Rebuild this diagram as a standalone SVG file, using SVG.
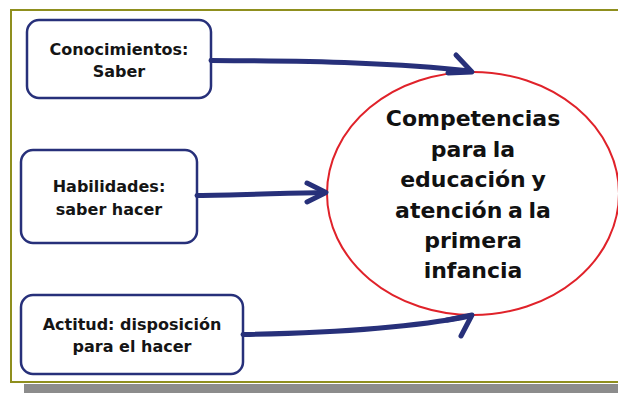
<svg xmlns="http://www.w3.org/2000/svg" width="618" height="393" viewBox="0 0 618 393">
<style>
.box{fill:#ffffff;stroke:#27307a;stroke-width:2.5}
.t{font-family:"DejaVu Sans","Liberation Sans",sans-serif;font-weight:bold;font-size:16px;fill:#151515;text-anchor:middle}
.big{font-family:"DejaVu Sans","Liberation Sans",sans-serif;font-weight:bold;font-size:22px;fill:#111111;text-anchor:middle;word-spacing:-2px}
.arr{fill:none;stroke:#27307a;stroke-width:5;stroke-linecap:round;stroke-linejoin:round}
</style>
<rect x="0" y="0" width="618" height="393" fill="#ffffff"/>
<rect x="24" y="384" width="594" height="9" fill="#8c8c8c"/>
<rect x="11" y="10" width="620" height="372" fill="none" stroke="#8f8f1e" stroke-width="2"/>

<g id="center">
<ellipse cx="473" cy="193.5" rx="146" ry="121.5" fill="#ffffff" stroke="#e0222a" stroke-width="2"/>
<text class="big" x="473" y="126">Competencias</text>
<text class="big" x="473" y="156.5">para la</text>
<text class="big" x="473" y="187">educación y</text>
<text class="big" x="473" y="217.5">atención a la</text>
<text class="big" x="473" y="248">primera</text>
<text class="big" x="473" y="278">infancia</text>
</g>

<g id="conocimientos">
<rect class="box" x="27" y="20" width="184" height="78" rx="12"/>
<text class="t" x="119" y="55">Conocimientos:</text>
<text class="t" x="119" y="77">Saber</text>
</g>

<g id="habilidades">
<rect class="box" x="21" y="150" width="176" height="93" rx="12"/>
<text class="t" x="109" y="192">Habilidades:</text>
<text class="t" x="109" y="215">saber hacer</text>
</g>

<g id="actitud">
<rect class="box" x="21" y="295" width="222" height="79" rx="12"/>
<text class="t" x="132" y="330">Actitud: disposición</text>
<text class="t" x="132" y="352">para el hacer</text>
</g>

<g id="connectors">
<path class="arr" d="M211,60.5 C320,61 400,63 470,71"/>
<polyline class="arr" points="456,55 472,72 448,73"/>
<path class="arr" d="M197,195.5 C240,195 290,193 325,192.5"/>
<polyline class="arr" points="307,183 326,192.5 307,202"/>
<path class="arr" d="M243,334.5 C330,333 410,328 470,316"/>
<polyline class="arr" points="447,320 472,315 461,336"/>
</g>
</svg>
